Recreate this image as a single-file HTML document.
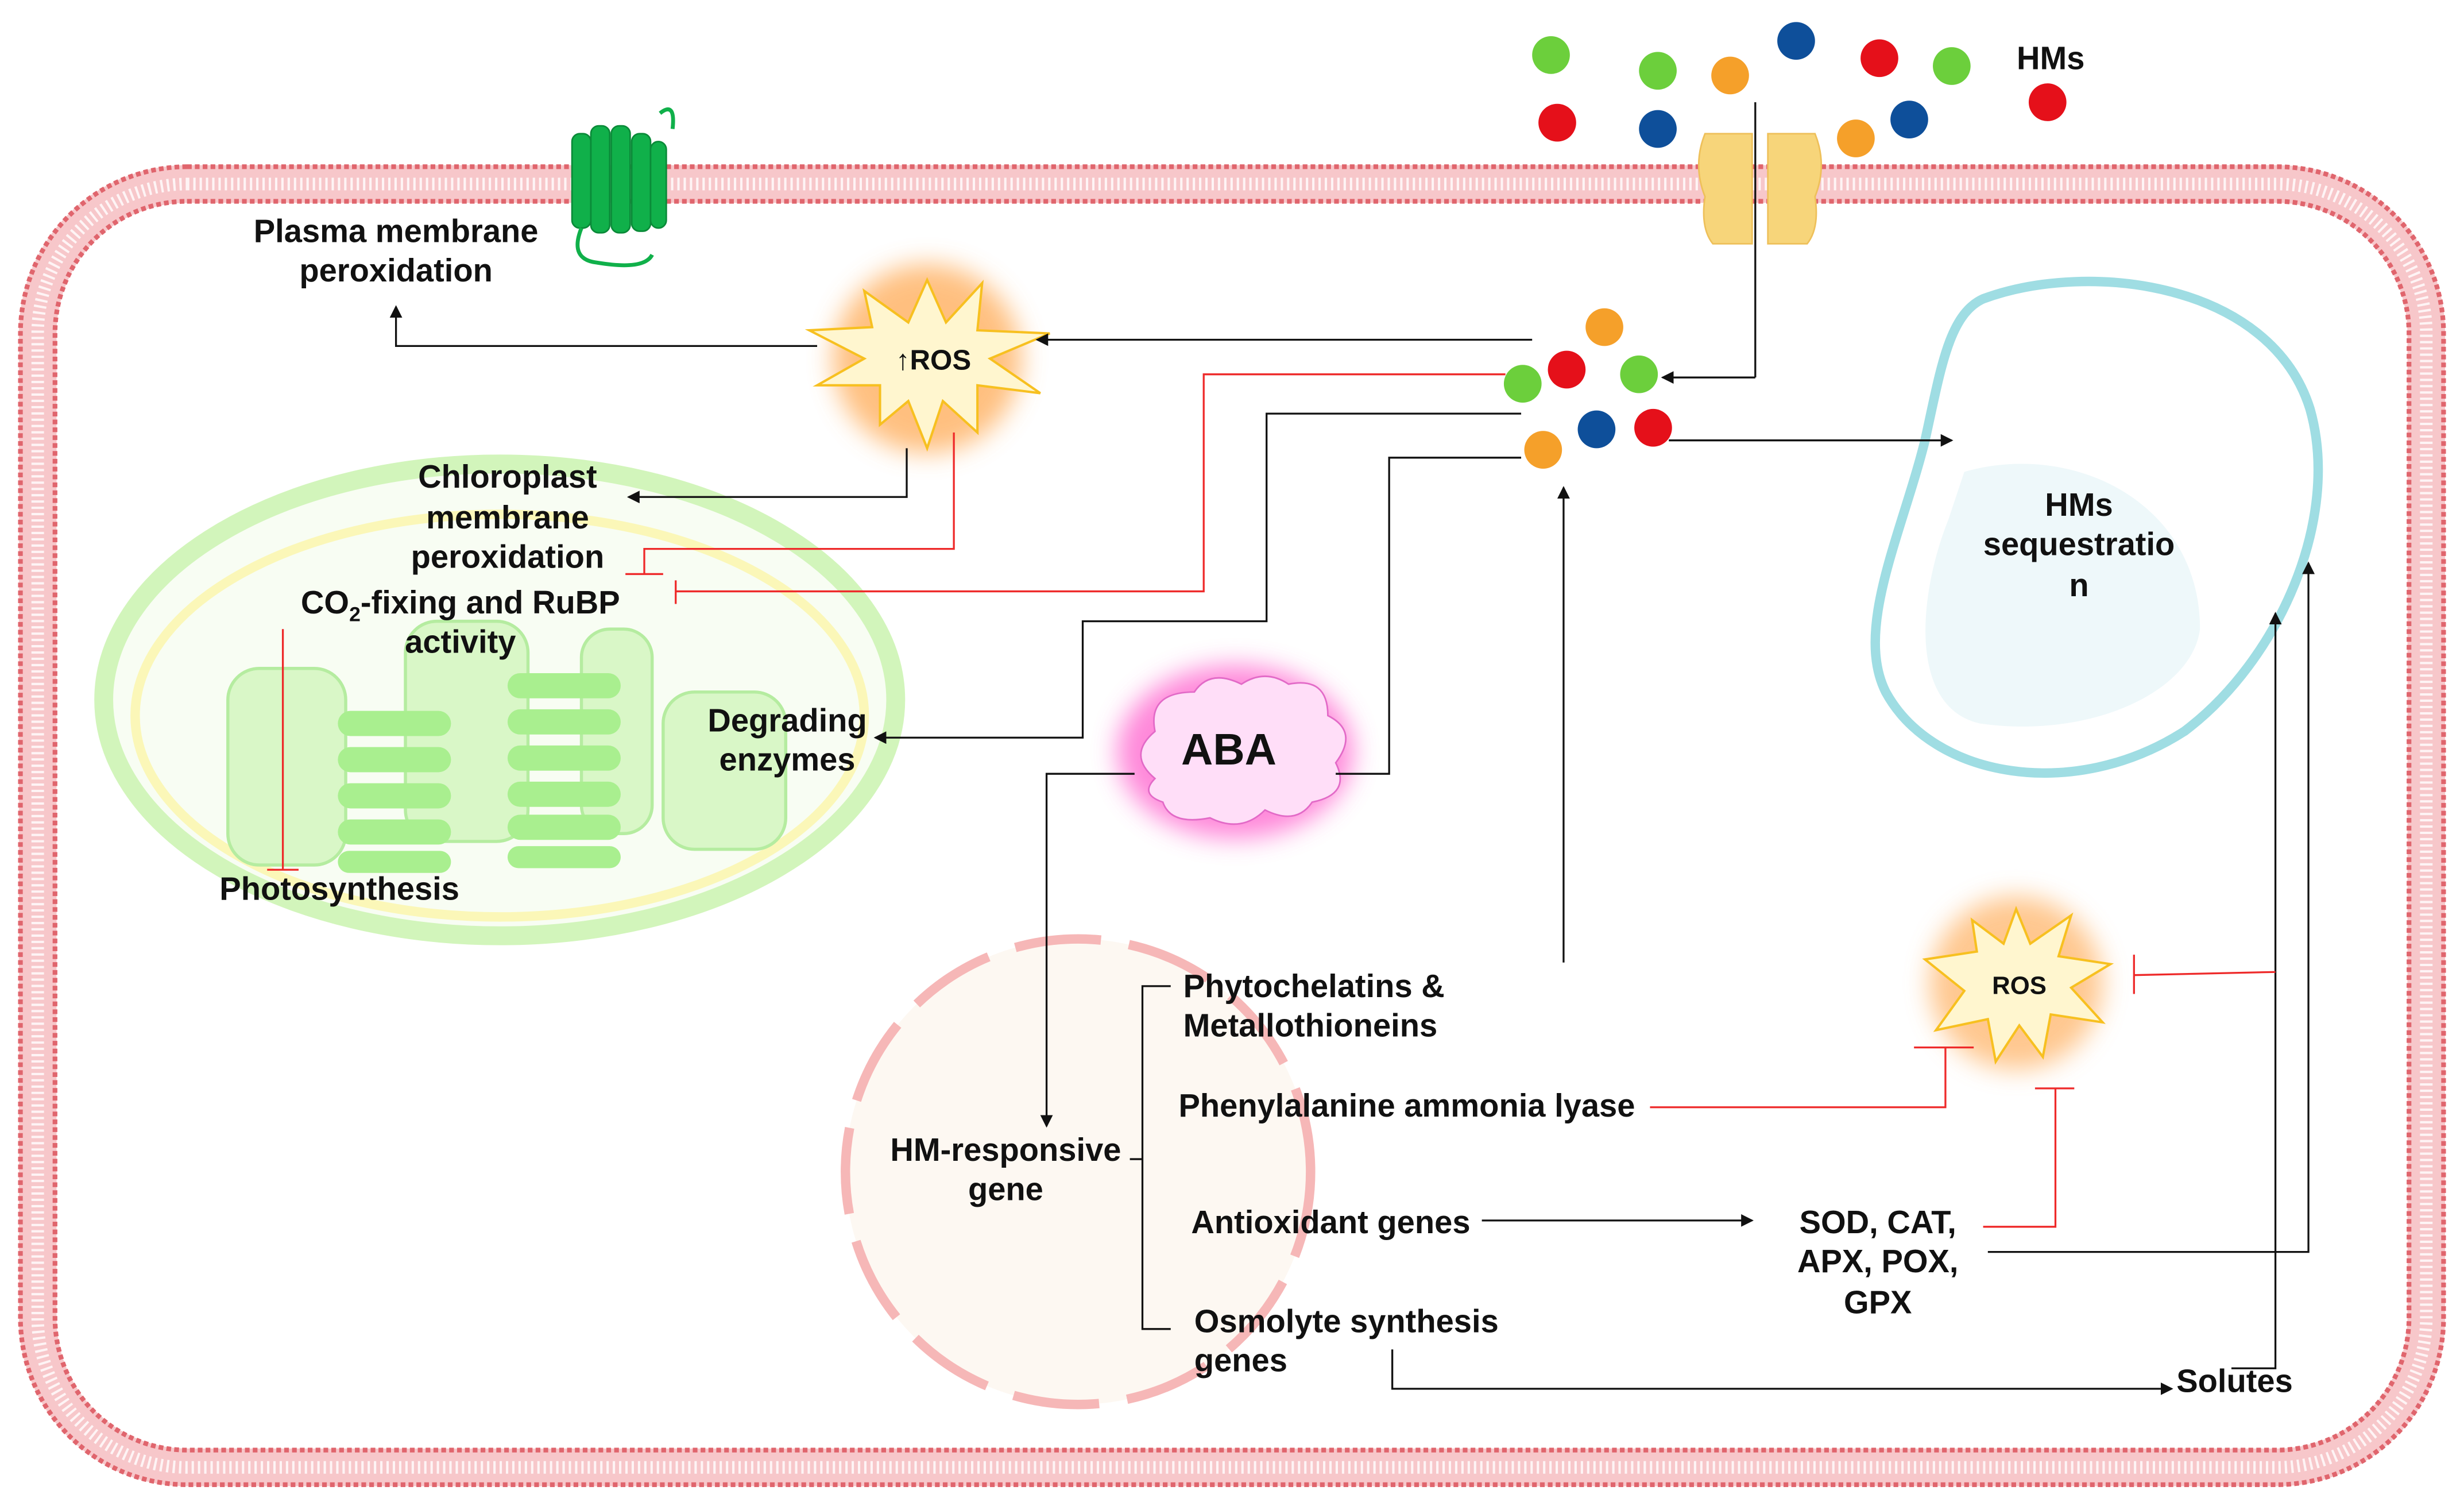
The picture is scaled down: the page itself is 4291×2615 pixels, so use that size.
<!DOCTYPE html>
<html><head><meta charset="utf-8"><style>
html,body{margin:0;padding:0;background:#fff;}
svg{display:block;}
text{font-family:"Liberation Sans",sans-serif;font-weight:bold;fill:#111;}
</style></head><body>
<svg width="4291" height="2615" viewBox="0 0 1568 955" preserveAspectRatio="none" xmlns="http://www.w3.org/2000/svg">
<defs>
<marker id="ar" markerWidth="8" markerHeight="8" refX="7" refY="4" orient="auto" markerUnits="userSpaceOnUse"><path d="M0,0L8,4L0,8z" fill="#111"/></marker>
<filter id="bl" x="-50%" y="-50%" width="200%" height="200%"><feGaussianBlur stdDeviation="8"/></filter>
</defs>
<!-- cell membrane -->
<rect x="24" y="117" width="1520" height="816" rx="95" fill="none" stroke="#f7c7ca" stroke-width="24"/>
<rect x="24" y="117" width="1520" height="816" rx="95" fill="none" stroke="#fff" stroke-width="8" stroke-dasharray="1.5 2.5" opacity=".8"/>
<rect x="13" y="106" width="1542" height="838" rx="106" fill="none" stroke="#e0656d" stroke-width="3" stroke-dasharray="3 2"/>
<rect x="35" y="128" width="1498" height="794" rx="84" fill="none" stroke="#e0656d" stroke-width="3" stroke-dasharray="3 2"/>
<!-- chloroplast -->
<ellipse cx="318" cy="445" rx="252" ry="150" fill="#f8fdf3" stroke="#d2f5bb" stroke-width="12"/>
<ellipse cx="318" cy="455" rx="232" ry="128" fill="none" stroke="#fbf7b8" stroke-width="6"/>
<g fill="#d9f7c7" stroke="#b5eca0" stroke-width="2">
<rect x="145" y="425" width="75" height="125" rx="20"/>
<rect x="258" y="395" width="78" height="140" rx="20"/>
<rect x="370" y="400" width="45" height="130" rx="18"/>
<rect x="422" y="440" width="78" height="100" rx="20"/>
</g>
<g fill="#a9ef8f">
<rect x="215" y="452" width="72" height="16" rx="8"/><rect x="215" y="475" width="72" height="16" rx="8"/><rect x="215" y="498" width="72" height="16" rx="8"/><rect x="215" y="521" width="72" height="16" rx="8"/><rect x="215" y="541" width="72" height="14" rx="7"/>
<rect x="323" y="428" width="72" height="16" rx="8"/><rect x="323" y="451" width="72" height="16" rx="8"/><rect x="323" y="474" width="72" height="16" rx="8"/><rect x="323" y="497" width="72" height="16" rx="8"/><rect x="323" y="518" width="72" height="16" rx="8"/><rect x="323" y="538" width="72" height="14" rx="7"/>
</g>
<!-- nucleus -->
<circle cx="686" cy="745" r="148" fill="#fdf8f2" stroke="#f6b7b7" stroke-width="6" stroke-dasharray="55 18"/>
<!-- vacuole -->
<path d="M1262,190 C1330,165 1445,180 1470,260 C1490,330 1450,420 1390,465 C1320,510 1230,495 1200,440 C1180,400 1210,340 1225,280 C1235,235 1240,200 1262,190Z" fill="#fff" stroke="#9fdde3" stroke-width="6"/>
<path d="M1250,300 C1320,280 1400,320 1400,400 C1395,440 1330,470 1260,460 C1215,450 1220,380 1240,330Z" fill="#eef8fa"/>
<!-- proteins -->
<g fill="#10b04a" stroke="#0a8a38" stroke-width="1">
<rect x="364" y="85" width="12" height="60" rx="5"/><rect x="376" y="80" width="12" height="68" rx="5"/><rect x="389" y="80" width="12" height="68" rx="5"/><rect x="402" y="85" width="12" height="62" rx="5"/><rect x="414" y="90" width="10" height="55" rx="5"/>
</g>
<path d="M370,145 q-8,20 10,22 q30,5 35,-5 M420,72 q10,-8 8,10" stroke="#10b04a" stroke-width="2.5" fill="none"/>
<g fill="#f7d57a" stroke="#eec05a"><path d="M1085,85 h30 v70 h-25 q-8,-10 -5,-30 q-8,-20 0,-40z"/><path d="M1125,85 h30 q8,20 0,40 q3,20 -5,30 h-25z"/></g>
<line x1="1117" y1="65" x2="1117" y2="240" stroke="#111" stroke-width="1.2"/>
<!-- HM dots -->
<g>
<circle cx="987" cy="35" r="12" fill="#6ccf3c"/><circle cx="1055" cy="45" r="12" fill="#6ccf3c"/><circle cx="1101" cy="48" r="12" fill="#f5a02a"/><circle cx="1143" cy="26" r="12" fill="#0e4f9a"/><circle cx="1196" cy="37" r="12" fill="#e5101a"/><circle cx="1242" cy="42" r="12" fill="#6ccf3c"/><circle cx="1303" cy="65" r="12" fill="#e5101a"/>
<circle cx="991" cy="78" r="12" fill="#e5101a"/><circle cx="1055" cy="82" r="12" fill="#0e4f9a"/><circle cx="1181" cy="88" r="12" fill="#f5a02a"/><circle cx="1215" cy="76" r="12" fill="#0e4f9a"/>
<circle cx="1021" cy="208" r="12" fill="#f5a02a"/><circle cx="969" cy="244" r="12" fill="#6ccf3c"/><circle cx="997" cy="235" r="12" fill="#e5101a"/><circle cx="1043" cy="238" r="12" fill="#6ccf3c"/>
<circle cx="982" cy="286" r="12" fill="#f5a02a"/><circle cx="1016" cy="273" r="12" fill="#0e4f9a"/><circle cx="1052" cy="272" r="12" fill="#e5101a"/>
</g>
<!-- ROS star top -->
<circle cx="590" cy="228" r="60" fill="#ffb060" filter="url(#bl)" opacity=".8"/>
<path d="M590,178 L602,205 L625,180 L622,210 L668,212 L630,228 L662,250 L622,245 L622,275 L600,255 L590,285 L578,255 L560,270 L560,245 L520,245 L550,228 L515,210 L555,208 L550,185 L578,205Z" fill="#fff6cf" stroke="#f7c020" stroke-width="1.5"/>
<text x="594" y="235" font-size="18" text-anchor="middle">↑ROS</text>
<!-- ROS star right -->
<circle cx="1283" cy="625" r="55" fill="#ffb060" filter="url(#bl)" opacity=".7"/>
<path d="M1283,578 L1292,600 L1318,582 L1310,608 L1343,613 L1318,628 L1338,650 L1305,645 L1300,672 L1285,652 L1270,675 L1265,648 L1232,655 L1250,630 L1225,610 L1258,605 L1255,585 L1275,600Z" fill="#fff6cf" stroke="#f7c020" stroke-width="1.5"/>
<text x="1285" y="632" font-size="16" text-anchor="middle">ROS</text>
<!-- ABA cloud -->
<ellipse cx="786" cy="478" rx="75" ry="55" fill="#ff6ad0" filter="url(#bl)" opacity=".8"/>
<path d="M735,495 q-18,-15 0,-30 q-5,-25 25,-25 q10,-15 30,-5 q15,-10 30,0 q25,-5 25,20 q20,10 5,30 q10,20 -15,25 q-10,15 -30,5 q-15,15 -35,5 q-25,5 -30,-10 q-15,-5 -5,-15z" fill="#ffdef8" stroke="#e26ac7" stroke-width="1"/>
<text x="782" y="486" font-size="28" text-anchor="middle">ABA</text>
<!-- labels -->
<g font-size="20.5">
<text x="1305" y="44" text-anchor="middle">HMs</text>
<text x="252" y="154" text-anchor="middle">Plasma membrane</text>
<text x="252" y="179" text-anchor="middle">peroxidation</text>
<text x="323" y="310" text-anchor="middle">Chloroplast</text>
<text x="323" y="336" text-anchor="middle">membrane</text>
<text x="323" y="361" text-anchor="middle">peroxidation</text>
<text x="293" y="390" text-anchor="middle">CO<tspan font-size="13" dy="5">2</tspan><tspan dy="-5">-fixing and RuBP</tspan></text>
<text x="293" y="415" text-anchor="middle">activity</text>
<text x="501" y="465" text-anchor="middle">Degrading</text>
<text x="501" y="490" text-anchor="middle">enzymes</text>
<text x="216" y="572" text-anchor="middle">Photosynthesis</text>
<text x="1323" y="328" text-anchor="middle">HMs</text>
<text x="1323" y="353" text-anchor="middle">sequestratio</text>
<text x="1323" y="379" text-anchor="middle">n</text>
<text x="640" y="738" text-anchor="middle">HM-responsive</text>
<text x="640" y="763" text-anchor="middle">gene</text>
<text x="753" y="634">Phytochelatins &amp;</text>
<text x="753" y="659">Metallothioneins</text>
<text x="750" y="710">Phenylalanine ammonia lyase</text>
<text x="758" y="784">Antioxidant genes</text>
<text x="760" y="847">Osmolyte synthesis</text>
<text x="760" y="872">genes</text>
<text x="1195" y="784" text-anchor="middle">SOD, CAT,</text>
<text x="1195" y="809" text-anchor="middle">APX, POX,</text>
<text x="1195" y="835" text-anchor="middle">GPX</text>
<text x="1385" y="885">Solutes</text>
</g>
<!-- black connectors -->
<g stroke="#111" stroke-width="1.2" fill="none" marker-end="url(#ar)">
<polyline points="1117,240 1058,240"/>
<polyline points="975,216 660,216"/>
<polyline points="520,220 252,220 252,195"/>
<polyline points="577,285 577,316 400,316"/>
<polyline points="968,263 806,263 806,395 689,395 689,469 557,469"/>
<polyline points="1062,280 1242,280"/>
<polyline points="995,612 995,310"/>
<polyline points="850,492 884,492 884,291 968,291" marker-end="none"/>
<polyline points="722,492 666,492 666,716"/>
<polyline points="943,776 1115,776"/>
<polyline points="886,858 886,883 1382,883"/>
<polyline points="1420,870 1448,870 1448,390"/>
<polyline points="1265,796 1469,796 1469,358"/>
</g>
<path d="M745,627 h-18 v110 h-8 h8 v108 h18" stroke="#111" stroke-width="1.2" fill="none"/>
<!-- red inhibition -->
<g stroke="#ee2a2a" stroke-width="1.2" fill="none">
<polyline points="607,275 607,349 410,349 410,365"/><line x1="398" y1="365" x2="422" y2="365"/>
<polyline points="958,238 766,238 766,376 430,376"/><line x1="430" y1="369" x2="430" y2="384"/>
<line x1="180" y1="400" x2="180" y2="553"/><line x1="170" y1="553" x2="190" y2="553"/>
<polyline points="1050,704 1238,704 1238,666"/><line x1="1218" y1="666" x2="1256" y2="666"/>
<polyline points="1262,780 1308,780 1308,692"/><line x1="1295" y1="692" x2="1320" y2="692"/>
<polyline points="1448,618 1358,620"/><line x1="1358" y1="607" x2="1358" y2="632"/>
</g>
</svg>
</body></html>
